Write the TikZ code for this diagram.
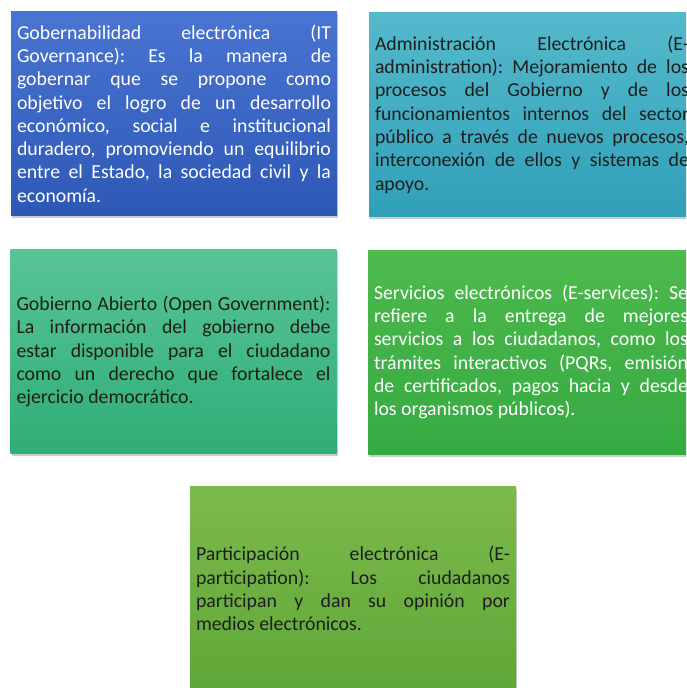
\documentclass[tikz,border=0pt]{standalone}
\usepackage{fontspec}
\setmainfont{Carlito}
\usepackage{xcolor}
\usepackage{tikz}
\usetikzlibrary{shadows,positioning}

\definecolor{azulA}{HTML}{4A74D2}
\definecolor{azulB}{HTML}{2D58B6}
\definecolor{turqA}{HTML}{55B9CC}
\definecolor{turqB}{HTML}{30A0B8}
\definecolor{verdeA}{HTML}{58C496}
\definecolor{verdeB}{HTML}{2FAE76}
\definecolor{pastoA}{HTML}{4DBA4C}
\definecolor{pastoB}{HTML}{36AA42}
\definecolor{limaA}{HTML}{7CBA4C}
\definecolor{limaB}{HTML}{5FA738}
\definecolor{tinta}{HTML}{1E1E1E}

\begin{document}
\frenchspacing
\hyphenpenalty=10000
\begin{tikzpicture}[x=1pt, y=-1pt,
    caja/.style={rectangle, minimum width=326pt, minimum height=204pt,
      text width=314pt, inner xsep=6pt, align=justify,
      font=\fontsize{19.8}{23.3}\selectfont,
      drop shadow={opacity=0.4, shadow xshift=1pt, shadow yshift=-2.5pt}},
    ]

    \useasboundingbox (0,0) rectangle (686,688);
    \clip (0,0) rectangle (686,688);
    \fill[white] (0,0) rectangle (686,688);

    % Fila 1
    \node[caja, top color=azulA, bottom color=azulB, text=white] (gobernab) at (174,113.5)
      {Gobernabilidad electrónica (IT\linebreak Governance): Es la manera de\linebreak gobernar que se propone como\linebreak objetivo el logro de un desarrollo\linebreak económico, social e institucional\linebreak duradero, promoviendo un equilibrio\linebreak entre el Estado, la sociedad civil y la\linebreak economía.};
    \node[caja, top color=turqA, bottom color=turqB, text=tinta] (administ) at (532,114.5)
      {Administración Electrónica (E-\linebreak administration): Mejoramiento de los\linebreak procesos del Gobierno y de los\linebreak funcionamientos internos del sector\linebreak público a través de nuevos procesos,\linebreak interconexión de ellos y sistemas de\linebreak apoyo.};

    % Fila 2
    \node[caja, top color=verdeA, bottom color=verdeB, text=tinta] (abierto) at (173.5,351.5)
      {Gobierno Abierto (Open Government):\linebreak La información del gobierno debe\linebreak estar disponible para el ciudadano\linebreak como un derecho que fortalece el\linebreak ejercicio democrático.};
    \node[caja, top color=pastoA, bottom color=pastoB, text=white] (servicios) at (531,352)
      {Servicios electrónicos (E-services): Se\linebreak refiere a la entrega de mejores\linebreak servicios a los ciudadanos, como los\linebreak trámites interactivos (PQRs, emisión\linebreak de certificados, pagos hacia y desde\linebreak los organismos públicos).};

    % Fila 3
    \node[caja, top color=limaA, bottom color=limaB, text=tinta] (particip) at (353,588.5)
      {Participación electrónica (E-\linebreak participation): Los ciudadanos\linebreak participan y dan su opinión por\linebreak medios electrónicos.};
\end{tikzpicture}
\end{document}
